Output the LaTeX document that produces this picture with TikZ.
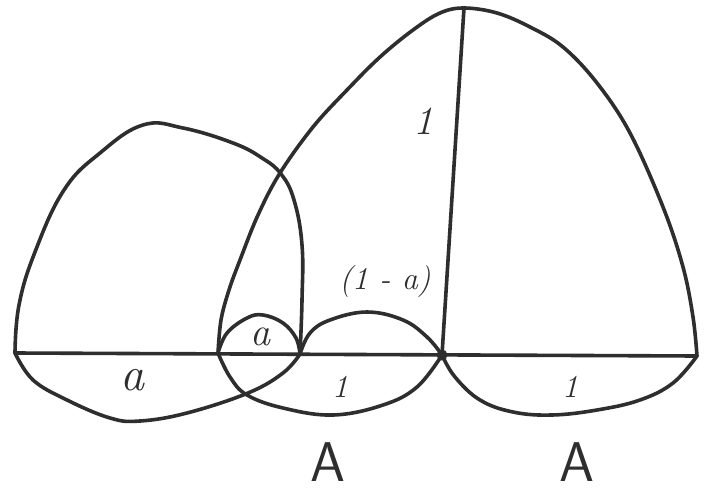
\documentclass[tikz,border=0pt]{standalone}
\usepackage{tikz}
\usetikzlibrary{positioning}

\begin{document}
\begin{tikzpicture}[x=1pt, y=-1pt,
  ln/.style={draw=black!82, line width=3.6pt, line cap=round, line join=round},
  lbl/.style={text=black!82, inner sep=0pt, font=\fontsize{32}{32}\selectfont\itshape},
  vlbl/.style={lbl, font=\fontsize{48}{48}\selectfont\itshape},
  big/.style={lbl, anchor=base, text depth=0pt, font=\fontsize{56}{56}\selectfont\sffamily}
]
\useasboundingbox[fill=white] (0,0) rectangle (709,492);

\coordinate (p0) at (15,353);
\coordinate (p1) at (218,353);
\coordinate (p2) at (300,354);
\coordinate (p3) at (442,355);
\coordinate (p4) at (697,356);
\coordinate (top) at (464,8);

\draw[ln] (p0) -- (p4);
\draw[ln] (top) -- (p3);
\fill[black!82] (p3) circle (5.5pt);

\draw[ln] plot[smooth, tension=0.7] coordinates {(p0) (19,305) (35,252) (64,190) (100,153)
  (143,125) (183,128) (233,143) (262,158) (281,174) (294,200) (302,245) (302,300) (p2)};
\draw[ln] plot[smooth, tension=0.65] coordinates {(p0) (33,380) (67,400) (110,418) (140,421)
  (187,413) (248,393) (283,373) (p2)};
\draw[ln] plot[smooth, tension=0.65] coordinates {(p1) (227,333) (247,318) (263,315)
  (283,323) (296,338) (p2)};
\draw[ln] plot[smooth, tension=0.65] coordinates {(p1) (230,377) (247,395) (283,408)
  (333,415) (383,405) (417,387) (p3)};
\draw[ln] plot[smooth, tension=0.65] coordinates {(p2) (310,333) (330,320) (367,312)
  (403,320) (427,337) (p3)};
\draw[ln] plot[smooth, tension=0.6] coordinates {(p1) (221,320) (229,290) (240,260)
  (258,215) (280,173) (313,127) (347,90) (380,57) (413,30) (440,13) (top) (497,13)
  (530,27) (563,47) (597,83) (630,133) (663,207) (683,267) (693,317) (p4)};
\draw[ln] plot[smooth, tension=0.65] coordinates {(p3) (455,377) (480,400) (513,412)
  (552,415) (597,410) (640,400) (673,383) (p4)};

\node[vlbl] (la1) at (132,380) {a};
\node[vlbl, font=\fontsize{40}{40}\selectfont\itshape] (la2) at (260,337) {a};
\node[lbl, font=\fontsize{40}{40}\selectfont\itshape] (one1) at (423,121) {1};
\node[lbl] (oma) at (385,282) {(1 - a)};
\node[lbl] (one2) at (340,387) {1};
\node[lbl] (one3) at (570,387) {1};
\node[big] (capA1) at (328,481) {A};
\node[big] (capA2) at (577,481) {A};
\end{tikzpicture}
\end{document}
